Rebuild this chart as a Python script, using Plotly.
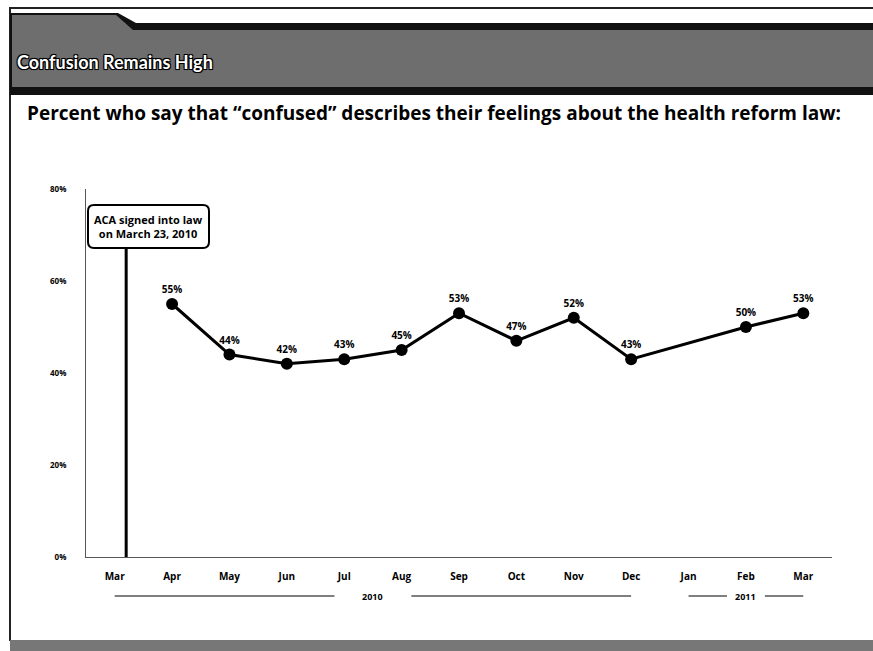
import plotly.graph_objects as go

# Survey months (March 2010 - March 2011) and share saying "confused"
months = ["Mar", "Apr", "May", "Jun", "Jul", "Aug", "Sep", "Oct", "Nov", "Dec", "Jan", "Feb", "Mar"]
confused_pct = [None, 55, 44, 42, 43, 45, 53, 47, 52, 43, None, 50, 53]
y_ticks = [0, 20, 40, 60, 80]
y_tick_labels = ["0%", "20%", "40%", "60%", "80%"]
# Year groups: (label, first month index, last month index)
year_groups = [("2010", 0, 9), ("2011", 10, 12)]
signing_pos = 0.2  # March 23, 2010 within the first March slot

W, H = 873, 651
L, R, T, B = 86, 41, 189, 94
PW, PH = W - L - R, H - T - B
FONT = "Open Sans"
TITLE_FONT = "Lato"


def px(x):
    return (x - L) / PW


def py(y):
    return (H - B - y) / PH


xs = list(range(len(months)))
fig = go.Figure()

fig.add_trace(go.Scatter(
    x=xs, y=confused_pct, mode="lines+markers+text", connectgaps=True,
    line=dict(color="black", width=3),
    marker=dict(color="black", size=12),
    text=[f"{v}%" if v is not None else "" for v in confused_pct],
    textposition="top center",
    textfont=dict(family=FONT, size=10, color="black", weight=700),
    hoverinfo="skip", showlegend=False, cliponaxis=False,
))

shapes = []
annotations = []

# Frame lines
shapes.append(dict(type="line", xref="paper", yref="paper", x0=px(9), x1=px(873), y0=py(8), y1=py(8),
                   line=dict(color="#222", width=2)))
shapes.append(dict(type="line", xref="paper", yref="paper", x0=px(10), x1=px(10), y0=py(8), y1=py(641),
                   line=dict(color="#222", width=2)))


def poly(points):
    d = "M " + " L ".join(f"{px(a):.5f},{py(b):.5f}" for a, b in points) + " Z"
    return d


# Header band with the tab on the left
shapes.append(dict(type="path", xref="paper", yref="paper",
                   path=poly([(10, 13), (118, 13), (136, 23), (873, 23), (873, 95), (10, 95)]),
                   fillcolor="#111", line=dict(width=0)))
shapes.append(dict(type="path", xref="paper", yref="paper",
                   path=poly([(12, 15), (116, 15), (133, 30), (873, 30), (873, 87), (12, 87)]),
                   fillcolor="#6e6e6e", line=dict(width=0)))
# Footer band
shapes.append(dict(type="rect", xref="paper", yref="paper", x0=px(10), x1=px(873), y0=py(640), y1=py(651),
                   fillcolor="#777", line=dict(width=0)))

annotations.append(dict(xref="paper", yref="paper", x=px(15), y=py(62), xanchor="left", yanchor="middle",
                        text="Confusion Remains High", showarrow=False,
                        font=dict(family=TITLE_FONT, size=18, color="white", weight=700,
                                  shadow="-1px -1px 0 #000, 1px -1px 0 #000, -1px 1px 0 #000, 1px 1px 0 #000, 0 0 2px #000")))
annotations.append(dict(xref="paper", yref="paper", x=px(25), y=py(113), xanchor="left", yanchor="middle",
                        text="Percent who say that \u201cconfused\u201d describes their feelings about the health reform law:",
                        showarrow=False, font=dict(family=FONT, size=19, color="black", weight=700)))

# Signing marker: vertical line and rounded callout box
box_x0, box_x1, box_y0, box_y1, rad = 88, 209, 205, 248, 6
shapes.append(dict(type="line", xref="x", yref="paper", x0=signing_pos, x1=signing_pos,
                   y0=0, y1=py(box_y1), line=dict(color="black", width=3)))
rr = (f"M {px(box_x0 + rad)},{py(box_y0)} L {px(box_x1 - rad)},{py(box_y0)} "
      f"Q {px(box_x1)},{py(box_y0)} {px(box_x1)},{py(box_y0 + rad)} "
      f"L {px(box_x1)},{py(box_y1 - rad)} Q {px(box_x1)},{py(box_y1)} {px(box_x1 - rad)},{py(box_y1)} "
      f"L {px(box_x0 + rad)},{py(box_y1)} Q {px(box_x0)},{py(box_y1)} {px(box_x0)},{py(box_y1 - rad)} "
      f"L {px(box_x0)},{py(box_y0 + rad)} Q {px(box_x0)},{py(box_y0)} {px(box_x0 + rad)},{py(box_y0)} Z")
shapes.append(dict(type="path", xref="paper", yref="paper", path=rr, fillcolor="white",
                   line=dict(color="black", width=2)))
annotations.append(dict(xref="paper", yref="paper", x=px((box_x0 + box_x1) / 2), y=py((box_y0 + box_y1) / 2),
                        xanchor="center", yanchor="middle", showarrow=False,
                        text="ACA signed into law<br>on March 23, 2010",
                        font=dict(family=FONT, size=11, color="black", weight=700)))

# Year group labels with flanking rules
year_y = py(596)
for label, first, last in year_groups:
    mid = (first + last) / 2
    gap = 0.67 if last - first > 3 else 0.33
    shapes.append(dict(type="line", xref="x", yref="paper", x0=first, x1=mid - gap, y0=year_y, y1=year_y,
                       line=dict(color="black", width=1)))
    shapes.append(dict(type="line", xref="x", yref="paper", x0=mid + gap, x1=last, y0=year_y, y1=year_y,
                       line=dict(color="black", width=1)))
    annotations.append(dict(xref="x", yref="paper", x=mid, y=year_y, xanchor="center", yanchor="middle",
                            text=label, showarrow=False,
                            font=dict(family=FONT, size=9, color="black", weight=700)))

fig.update_layout(
    width=W, height=H,
    margin=dict(l=L, r=R, t=T, b=B),
    paper_bgcolor="white", plot_bgcolor="white",
    shapes=shapes, annotations=annotations,
    xaxis=dict(range=[-0.5, len(months) - 0.5], tickvals=xs, ticktext=months,
               showgrid=False, zeroline=False, showline=True, linecolor="#555", linewidth=1,
               ticks="", ticklabelstandoff=10,
               tickfont=dict(family=FONT, size=10, color="black", weight=700)),
    yaxis=dict(range=[0, 80], tickvals=y_ticks, ticktext=y_tick_labels,
               showgrid=False, zeroline=False, showline=True, linecolor="#555", linewidth=1,
               ticks="", ticklabelstandoff=17,
               tickfont=dict(family=FONT, size=8, color="black", weight=700)),
)

fig.write_html("out.html")
